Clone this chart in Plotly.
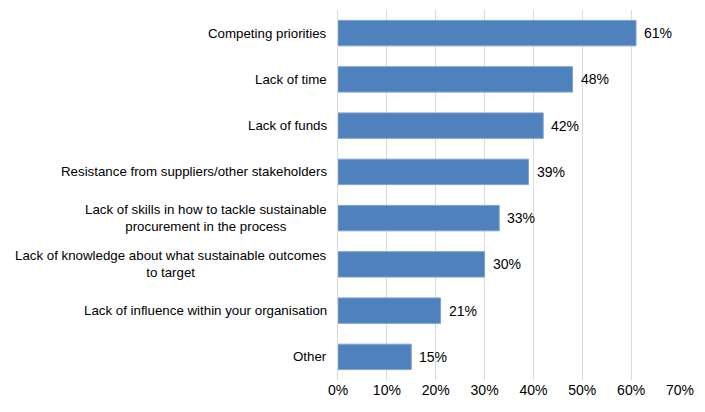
import plotly.graph_objects as go

# barriers, top to bottom as shown
categories = [
    "Competing priorities",
    "Lack of time",
    "Lack of funds",
    "Resistance from suppliers/other stakeholders",
    "Lack of skills in how to tackle sustainable<br>procurement in the process",
    "Lack of knowledge about what sustainable outcomes<br>to target",
    "Lack of influence within your organisation",
    "Other",
]
values = [61, 48, 42, 39, 33, 30, 21, 15]
x_ticks = [0, 10, 20, 30, 40, 50, 60, 70]

# plotly draws the first category at the bottom, so reverse
cats_r = categories[::-1]
vals_r = values[::-1]

fig = go.Figure()
fig.add_trace(go.Bar(
    x=vals_r,
    y=list(range(len(cats_r))),
    orientation="h",
    marker=dict(color="#4F81BD", line=dict(color="#7FA3D1", width=1)),
    width=0.55,
    hoverinfo="x",
))

# category labels as annotations so wrapped lines stay centred
for i, c in enumerate(cats_r):
    fig.add_annotation(
        x=0, y=i, xref="x", yref="y",
        text=c, showarrow=False,
        xanchor="right", yanchor="middle", xshift=-9,
        align="center",
        font=dict(size=13.3, color="#000000"),
    )

# value labels just past the bar ends
for i, v in enumerate(vals_r):
    fig.add_annotation(
        x=v, y=i, xref="x", yref="y",
        text=f"{v}%", showarrow=False,
        xanchor="left", yanchor="middle", xshift=6,
        font=dict(size=14, color="#000000"),
    )

fig.update_layout(
    width=705, height=412,
    paper_bgcolor="white",
    plot_bgcolor="white",
    font=dict(family="Liberation Sans, Arial, sans-serif", color="#000000", size=14),
    margin=dict(l=330, r=33, t=2, b=40),
    showlegend=False,
)
fig.update_xaxes(
    range=[0, 70],
    tickvals=x_ticks,
    ticktext=[f"{t}%" for t in x_ticks],
    showgrid=True, gridcolor="#D9D9D9", gridwidth=1,
    zeroline=False, showline=False,
    ticks="", tickfont=dict(size=14),
)
fig.update_yaxes(
    range=[-0.5, len(cats_r) - 0.5],
    showticklabels=False, showgrid=False, zeroline=False,
    showline=True, linecolor="#D9D9D9", linewidth=1,
)

fig.write_html("out.html")
